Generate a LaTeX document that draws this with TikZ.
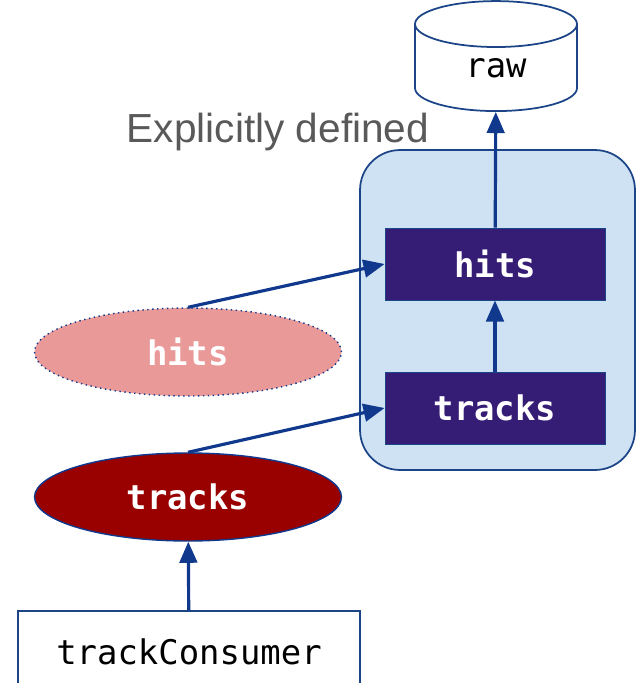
\documentclass[tikz,border=0pt]{standalone}
\usepackage{fontspec}
\setmonofont{DejaVu Sans Mono}
\setsansfont{Liberation Sans}
\usetikzlibrary{shapes.geometric,arrows.meta}
\definecolor{linkblue}{RGB}{16,56,140}
\definecolor{frameblue}{RGB}{28,69,135}
\definecolor{boxfill}{RGB}{207,226,243}
\definecolor{prodpurple}{RGB}{53,28,117}
\definecolor{lightred}{RGB}{234,153,153}
\definecolor{darkred}{RGB}{153,0,0}
\definecolor{titlegray}{RGB}{89,89,89}
\begin{document}
\begin{tikzpicture}[x=0.02cm,y=-0.02cm,
plain/.style ={font=\ttfamily\fontsize{19.3}{23}\selectfont},
product/.style ={rectangle, draw=frameblue, line width=0.5pt, fill=prodpurple,
  text=white, font=\ttfamily\bfseries\fontsize{19.3}{23}\selectfont,
  minimum width=4.4cm, minimum height=1.44cm, inner sep=0pt
},
request/.style ={ellipse, draw=linkblue, line width=0.8pt,
  text=white, font=\ttfamily\bfseries\fontsize{19.3}{23}\selectfont,
  minimum width=6.14cm, minimum height=1.76cm, inner sep=0pt
},
link/.style ={draw=linkblue, line width=1.8pt,
  -{Triangle[length=12pt,width=10pt]}
}]
\useasboundingbox (0,0) rectangle (644,683);
\node (group) at (497.5,310) [rectangle, rounded corners=0.8cm, draw=frameblue,
  line width=1pt, fill=boxfill, minimum width=5.5cm, minimum height=6.4cm] {};
\node (title) at (278,132) [font=\sffamily\fontsize{23.1}{27}\selectfont,
  text=titlegray] {Explicitly defined};
\node (raw) at (496,68) [cylinder, shape border rotate=90, draw=frameblue,
  line width=1pt, fill=white, aspect=0.75, minimum width=3.24cm,
  minimum height=2.2cm, inner sep=0pt, plain] {\raisebox{-0.39cm}{raw}};
\node (hitsP) at (495,264) [product] {hits};
\node (tracksP) at (495,408) [product] {tracks};
\node (hitsR) at (188,352) [request, fill=lightred, dotted] {hits};
\node (tracksR) at (188,497) [request, fill=darkred] {tracks};
\node (consumer) at (189,652) [rectangle, draw=frameblue, line width=0.8pt,
  fill=white, minimum width=6.84cm, minimum height=1.64cm, plain] {trackConsumer};
\draw[link] (tracksP) -- (hitsP);
\draw[link] (hitsP) -- (raw);
\draw[link] (hitsR.north) -- (hitsP.west);
\draw[link] (tracksR.north) -- (tracksP.west);
\draw[link] (consumer) -- (tracksR);
\end{tikzpicture}
\end{document}
